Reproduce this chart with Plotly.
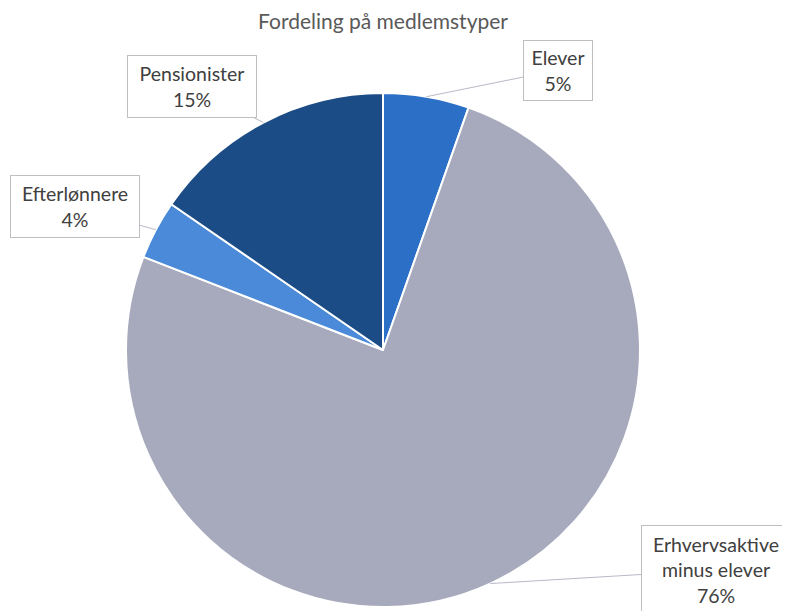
import math
import plotly.graph_objects as go

labels = ["Elever", "Erhvervsaktive<br>minus elever", "Efterlønnere", "Pensionister"]
values = [5.4, 75.5, 3.7, 15.4]
colors = ["#2b6fc6", "#a7aabc", "#4a8ad8", "#1c4c86"]
title = "Fordeling på medlemstyper"

OFF = 8  # page body margin
# label box centres (page pixels) — layout only
box_px = [(558, 70), (716, 570), (75, 207), (192, 87)]
box_w = [70, 150, 130, 130]
box_h = [61, 90, 63, 63]

W, H = 790, 611
cx, cy, R = 383 - OFF, 350 - OFF, 257

fig = go.Figure(go.Pie(
    labels=labels, values=values, sort=False, direction="clockwise", rotation=0,
    marker=dict(colors=colors, line=dict(color="white", width=2)),
    textinfo="none", hoverinfo="label+percent", showlegend=False,
    domain=dict(x=[(cx - R) / W, (cx + R) / W], y=[1 - (cy + R) / H, 1 - (cy - R) / H]),
))

total = sum(values)
cum = 0.0
anns = []
for lab, v, (bx, by), bw, bh in zip(labels, values, box_px, box_w, box_h):
    bx, by = bx - OFF, by - OFF
    mid = (cum + v / 2) / total * 2 * math.pi
    cum += v
    tx = cx + R * math.sin(mid)
    ty = cy - R * math.cos(mid)
    anns.append(dict(
        x=tx / W, y=1 - ty / H, xref="paper", yref="paper",
        ax=bx - tx, ay=by - ty, axref="pixel", ayref="pixel",
        text=f"{lab}<br>{round(v / total * 100)}%", showarrow=True,
        arrowhead=0, arrowwidth=1, arrowcolor="#b8b8c8",
        font=dict(family="Lato, Open Sans, sans-serif", size=19.5, color="#404040"),
        bgcolor="white", bordercolor="#bfbfbf", borderwidth=1, borderpad=0,
        width=bw - 2, height=bh - 2, align="center", valign="middle",
    ))

fig.update_layout(
    width=W, height=H, margin=dict(l=0, r=0, t=0, b=0),
    paper_bgcolor="white", plot_bgcolor="white",
    title=dict(text=title, x=(383 - OFF) / W, xanchor="center", y=1 - (22 - OFF) / H, yanchor="middle",
               font=dict(family="Lato, Open Sans, sans-serif", size=21, color="#595959")),
    annotations=anns,
)
fig.write_html("out.html")
